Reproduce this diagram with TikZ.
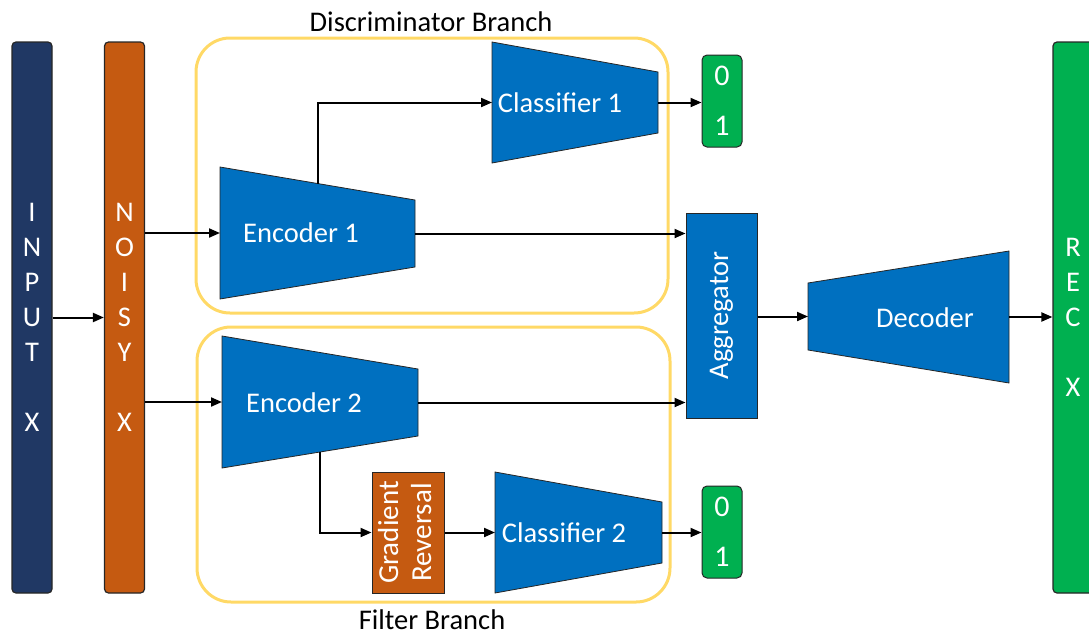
\documentclass[tikz,border=0pt]{standalone}
\usepackage{fontspec}
\setmainfont{Carlito}
\usepackage{graphicx}
\usetikzlibrary{arrows.meta,calc}

\definecolor{navy}{HTML}{203864}
\definecolor{rust}{HTML}{C55A11}
\definecolor{netblue}{HTML}{0070C0}
\definecolor{okgreen}{HTML}{00B050}
\definecolor{branchgold}{HTML}{FFD966}
\definecolor{edgegray}{HTML}{262626}

% funnel-shaped block: name, left x, left top, left bottom, right x, right top, right bottom
\newcommand\funnel[7]{%
  \draw[funnelblock] (#2,#3) coordinate (#1-nw) -- (#5,#6) coordinate (#1-ne)
    -- (#5,#7) coordinate (#1-se) -- (#2,#4) coordinate (#1-sw) -- cycle;
  \coordinate (#1-w) at ($(#1-nw)!0.5!(#1-sw)$);
  \coordinate (#1-e) at ($(#1-ne)!0.5!(#1-se)$);
}

\begin{document}
\begin{tikzpicture}[x=1pt,y=-1pt,
  font=\fontsize{28.5}{35}\selectfont,
  bar/.style={draw=edgegray, line width=1.2pt, rounded corners=4pt,
    minimum width=40pt, minimum height=551pt, inner sep=0pt,
    text=white, align=center},
  branch/.style={draw=branchgold, line width=3pt, rounded corners=34pt,
    inner sep=0pt},
  funnelblock/.style={fill=netblue, draw=edgegray, line width=0.8pt},
  blocklabel/.style={text=white, inner sep=0pt},
  plainbox/.style={draw=edgegray, line width=1pt, inner sep=0pt, text=white},
  outbox/.style={fill=okgreen, draw=edgegray, line width=1pt, rounded corners=5pt,
    minimum width=40pt, minimum height=92pt, inner sep=0pt, text=white, align=center,
    font=\fontsize{30}{35}\selectfont},
  arr/.style={draw=black, line width=2pt, -{Triangle[length=11pt,width=9pt]}}
]
\clip (0,0) rectangle (1089,635);

% input, noisy input and reconstruction bars
\node[bar, fill=navy] (input) at (32,317.5) {I\\N\\P\\U\\T\\[35pt]X};
\node[bar, fill=rust] (noisy) at (124.5,317.5) {N\\O\\I\\S\\Y\\[35pt]X};
\node[bar, fill=okgreen] (rec) at (1073,317.5) {R\\E\\C\\[35pt]X};

% branch frames
\node[branch, minimum width=472pt, minimum height=275pt] (disc) at (432,175.5) {};
\node[branch, minimum width=473pt, minimum height=275pt] (filt) at (433.5,464.5) {};
\node (disclabel) at (431,22) {Discriminator Branch};
\node (filtlabel) at (432,620) {Filter Branch};

% encoders, classifiers and decoder
\funnel{enc1}{220}{167}{299}{415}{200}{267}
\funnel{cls1}{492}{42}{163}{658}{72}{133}
\funnel{enc2}{222}{336}{468}{418}{369}{436}
\funnel{cls2}{495}{472}{593}{662}{502}{563}
\funnel{dec}{808}{283}{350}{1009}{251}{383}

\node[blocklabel] (enc1txt) at (301,233) {Encoder 1};
\node[blocklabel] (cls1txt) at (560,103) {Classifier 1};
\node[blocklabel] (enc2txt) at (304,403) {Encoder 2};
\node[blocklabel] (cls2txt) at (564,533) {Classifier 2};
\node[blocklabel] (dectxt) at (925,318) {Decoder};

% aggregator and gradient reversal
\node[plainbox, fill=netblue, minimum width=71pt, minimum height=205pt] (agg)
  at (721.5,315.5) {\rotatebox{90}{Aggregator}};
\node[plainbox, fill=rust, minimum width=72pt, minimum height=121pt] (grev)
  at (408,532.5) {\rotatebox{90}{\fontsize{29}{33}\selectfont
    \begin{tabular}{@{}c@{}}Gradient\\Reversal\end{tabular}}};

% binary outputs
\node[outbox] (out1) at (722,101) {0\\[15pt]1};
\node[outbox] (out2) at (722,532) {0\\[15pt]1};

% connections
\draw[arr] (input) -- (noisy);
\draw[arr] (noisy.east |- enc1-w) -- (enc1-w);
\draw[arr] (noisy.east |- enc2-w) -- (enc2-w);
\draw[arr] ($(enc1-nw)!0.5!(enc1-ne)$) |- (cls1-w);
\draw[arr] (cls1-e) -- (out1.west |- cls1-e);
\draw[arr] (enc1-e) -- (agg.west |- enc1-e);
\draw[arr] (enc2-e) -- (agg.west |- enc2-e);
\draw[arr] ($(enc2-sw)!0.5!(enc2-se)$) |- (grev.west);
\draw[arr] (grev.east) -- (cls2-w);
\draw[arr] (cls2-e) -- (out2.west |- cls2-e);
\draw[arr] (agg.east |- dec-w) -- (dec-w);
\draw[arr] (dec-e) -- (rec.west |- dec-e);
\end{tikzpicture}
\end{document}
